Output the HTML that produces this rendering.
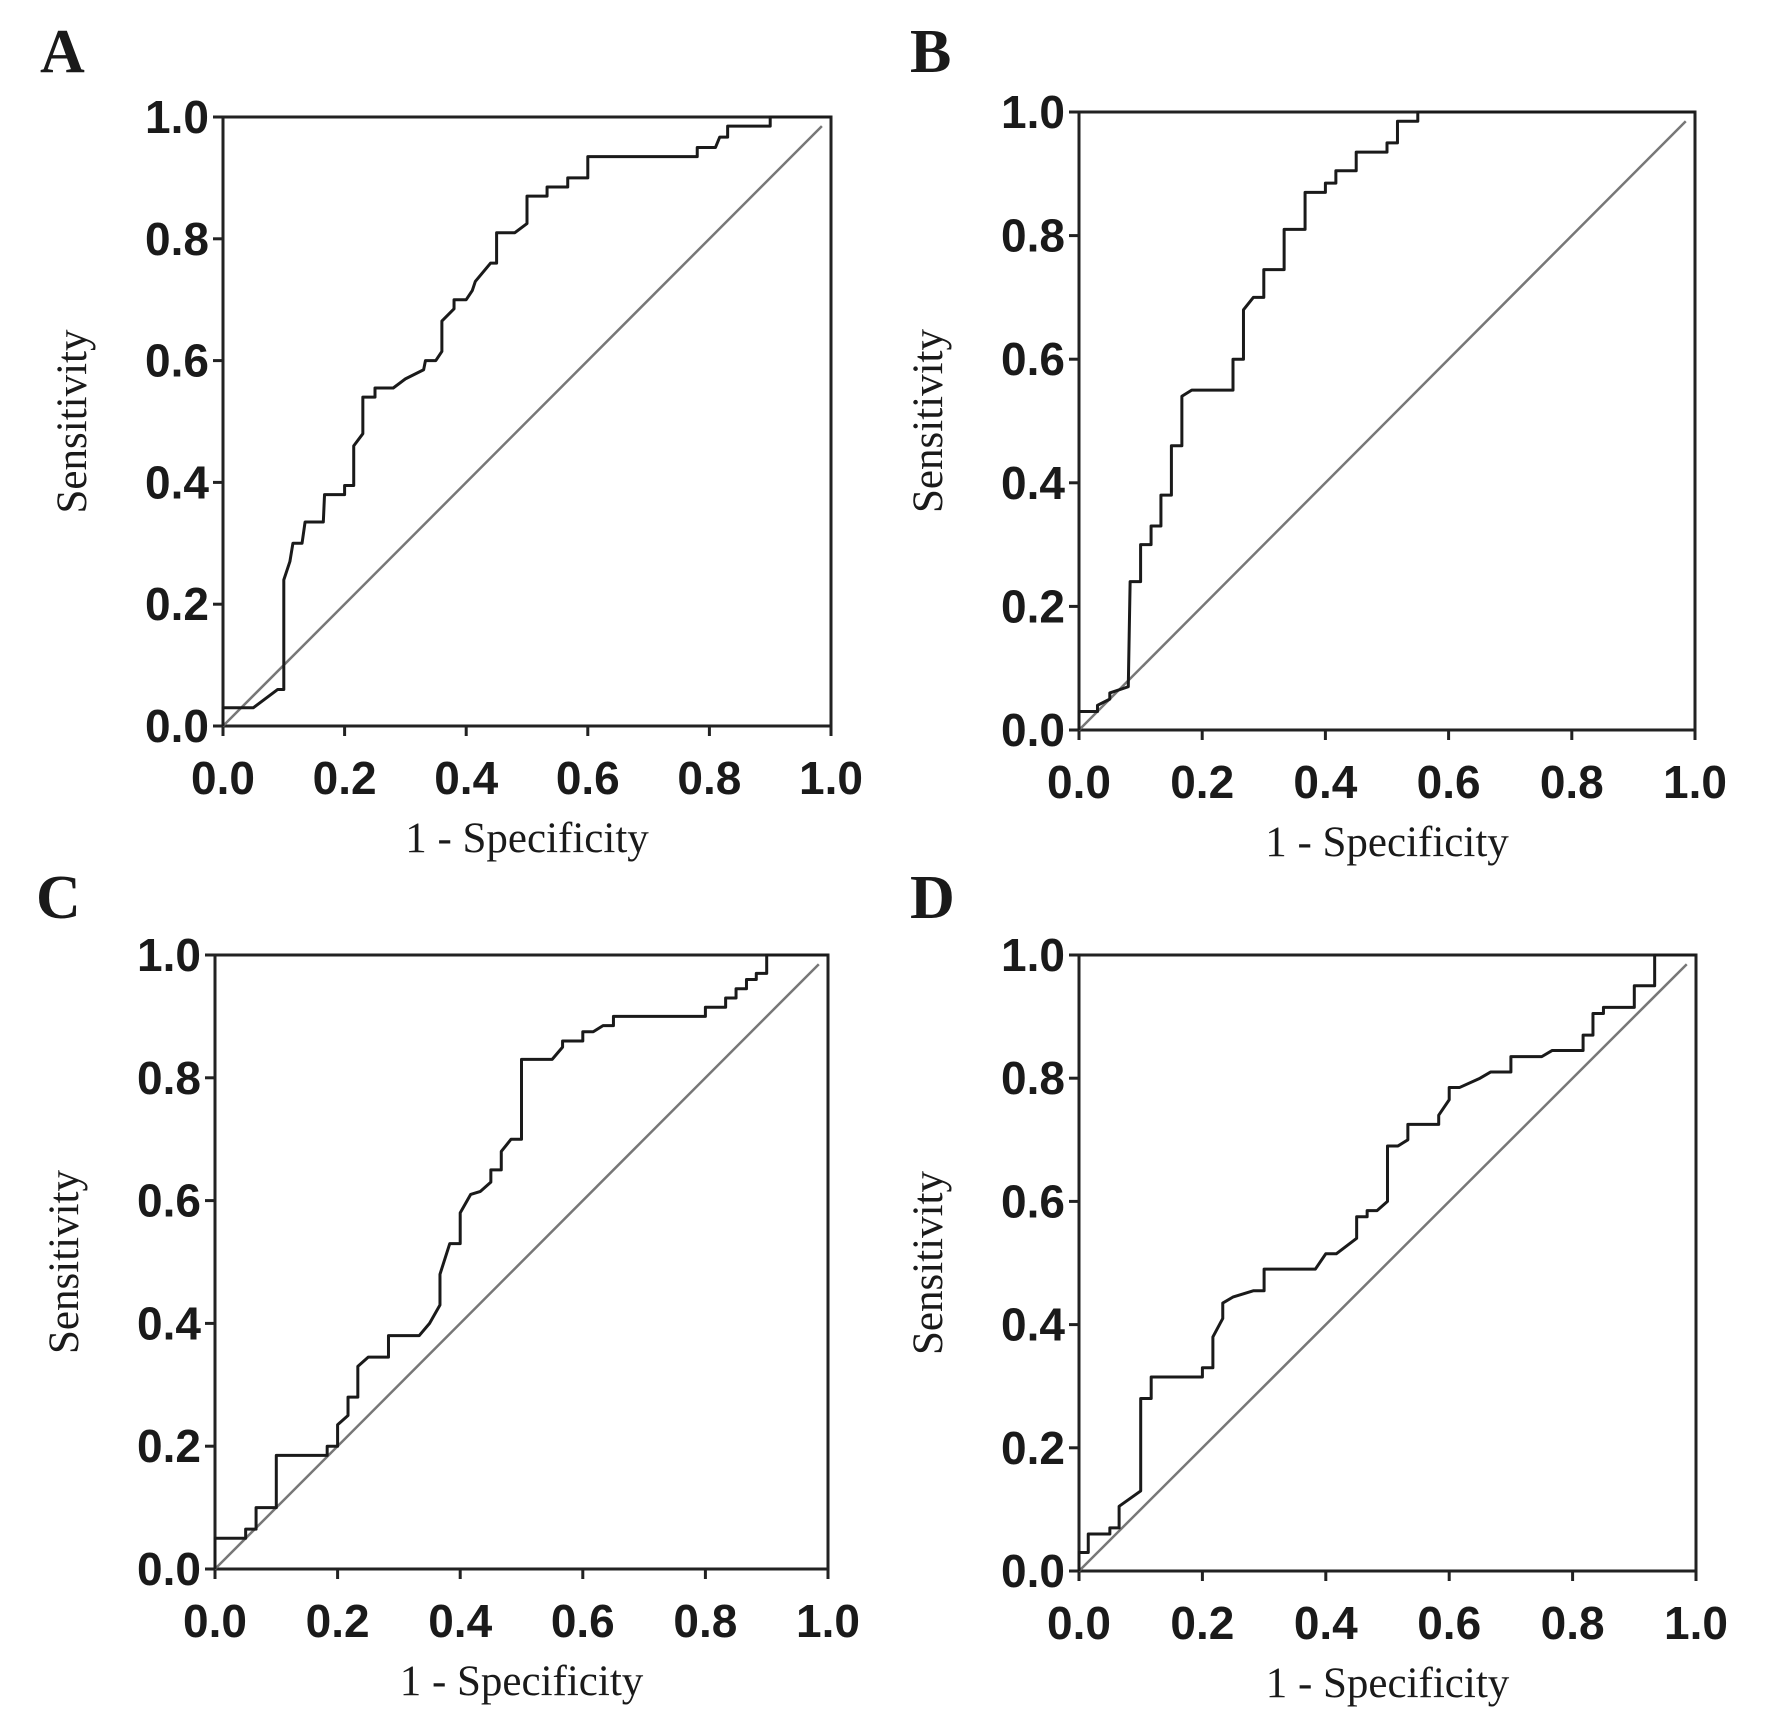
<!DOCTYPE html>
<html><head><meta charset="utf-8"><style>
html,body{margin:0;padding:0;background:#fff;}
svg{display:block;}
.tick{font-family:"Liberation Sans",Arial,sans-serif;font-weight:bold;font-size:46px;fill:#1a1a1a;}
.title{font-family:"Liberation Serif",serif;font-size:43px;fill:#1a1a1a;}
.letter{font-family:"Liberation Serif",serif;font-weight:bold;font-size:62px;fill:#1a1a1a;}
</style></head><body>
<svg id="fig" width="1772" height="1728" viewBox="0 0 1772 1728" xmlns="http://www.w3.org/2000/svg"></svg>
<script>
const tickValues = [0.0, 0.2, 0.4, 0.6, 0.8, 1.0];
const tickLabels = ["0.0", "0.2", "0.4", "0.6", "0.8", "1.0"];
const panelLetters = ["A", "B", "C", "D"];
const fprA = [0,0.05,0.09,0.1,0.1,0.11,0.115,0.13,0.135,0.165,0.167,0.2,0.2,0.215,0.215,0.23,0.23,0.25,0.25,0.28,0.3,0.33,0.333,0.35,0.36,0.36,0.38,0.38,0.4,0.41,0.415,0.44,0.45,0.45,0.48,0.5,0.5,0.533,0.533,0.567,0.567,0.6,0.6,0.78,0.78,0.81,0.817,0.83,0.83,0.9,0.9,1.0];
const tprA = [0.03,0.03,0.06,0.06,0.24,0.27,0.30,0.30,0.335,0.335,0.38,0.38,0.395,0.395,0.46,0.48,0.54,0.54,0.555,0.555,0.57,0.585,0.6,0.6,0.615,0.665,0.685,0.70,0.70,0.715,0.73,0.76,0.76,0.81,0.81,0.825,0.87,0.87,0.885,0.885,0.90,0.90,0.935,0.935,0.95,0.95,0.967,0.967,0.985,0.985,1.0,1.0];
const fprB = [0,0.03,0.03,0.05,0.05,0.08,0.083,0.1,0.1,0.117,0.117,0.133,0.133,0.15,0.15,0.167,0.167,0.183,0.25,0.25,0.267,0.267,0.283,0.3,0.3,0.333,0.333,0.367,0.367,0.4,0.4,0.417,0.417,0.45,0.45,0.5,0.5,0.517,0.517,0.55,0.55,1.0];
const tprB = [0.03,0.03,0.04,0.05,0.06,0.07,0.24,0.24,0.30,0.30,0.33,0.33,0.38,0.38,0.46,0.46,0.54,0.55,0.55,0.6,0.6,0.68,0.70,0.70,0.745,0.745,0.81,0.81,0.87,0.87,0.885,0.885,0.905,0.905,0.935,0.935,0.95,0.95,0.985,0.985,1.0,1.0];
const fprC = [0,0.05,0.05,0.067,0.067,0.1,0.1,0.183,0.183,0.2,0.2,0.217,0.217,0.233,0.233,0.25,0.283,0.283,0.333,0.35,0.367,0.367,0.383,0.4,0.4,0.417,0.433,0.45,0.45,0.467,0.467,0.483,0.5,0.5,0.55,0.567,0.567,0.6,0.6,0.617,0.633,0.65,0.65,0.8,0.8,0.833,0.833,0.85,0.85,0.867,0.867,0.883,0.883,0.9,0.9,1.0];
const tprC = [0.05,0.05,0.065,0.065,0.10,0.10,0.185,0.185,0.20,0.20,0.235,0.25,0.28,0.28,0.33,0.345,0.345,0.38,0.38,0.40,0.43,0.48,0.53,0.53,0.58,0.61,0.615,0.63,0.65,0.65,0.68,0.70,0.70,0.83,0.83,0.85,0.86,0.86,0.875,0.875,0.885,0.885,0.90,0.90,0.915,0.915,0.93,0.93,0.945,0.945,0.96,0.96,0.97,0.97,1.0,1.0];
const fprD = [0,0.015,0.015,0.05,0.05,0.065,0.065,0.1,0.1,0.117,0.117,0.2,0.2,0.217,0.217,0.233,0.233,0.25,0.283,0.3,0.3,0.383,0.4,0.417,0.45,0.45,0.467,0.467,0.483,0.5,0.5,0.517,0.533,0.533,0.583,0.583,0.6,0.6,0.617,0.65,0.667,0.7,0.7,0.75,0.767,0.817,0.817,0.833,0.833,0.85,0.85,0.9,0.9,0.933,0.933,1.0];
const tprD = [0.03,0.03,0.06,0.06,0.07,0.07,0.105,0.13,0.28,0.28,0.315,0.315,0.33,0.33,0.38,0.41,0.435,0.445,0.455,0.455,0.49,0.49,0.515,0.515,0.54,0.575,0.575,0.585,0.585,0.6,0.69,0.69,0.70,0.725,0.725,0.74,0.765,0.785,0.785,0.80,0.81,0.81,0.835,0.835,0.845,0.845,0.87,0.87,0.905,0.905,0.915,0.915,0.95,0.95,1.0,1.0];

const NS = "http://www.w3.org/2000/svg";
const svg = document.getElementById('fig');
function mk(tag, attrs, parent) {
  const e = document.createElementNS(NS, tag);
  for (const k in attrs) e.setAttribute(k, attrs[k]);
  (parent || svg).appendChild(e);
  return e;
}
const panels = [
  {x0:223, x1:831, y0:726, y1:117, lx:40, ly:72, fpr:fprA, tpr:tprA},
  {x0:1079, x1:1695, y0:730, y1:112, lx:910, ly:72, fpr:fprB, tpr:tprB},
  {x0:215, x1:828, y0:1569, y1:955, lx:36, ly:918, fpr:fprC, tpr:tprC},
  {x0:1079, x1:1696, y0:1571, y1:955, lx:910, ly:918, fpr:fprD, tpr:tprD}
];
panels.forEach((p, i) => {
  const L = panelLetters[i].toLowerCase();
  const g = mk('g', {});
  
  
  const sx = v => p.x0 + v * (p.x1 - p.x0);
  const sy = v => p.y0 - v * (p.y0 - p.y1);
  const letter = mk('text', {x:p.lx, y:p.ly, class:'letter'}, g);
  letter.textContent = panelLetters[i];
  
  
  const frame = mk('rect', {x:p.x0, y:p.y1, width:p.x1-p.x0, height:p.y0-p.y1, fill:'none', stroke:'#222', 'stroke-width':3}, g);
  
  
  tickValues.forEach((t, k) => {
    const xt = mk('line', {x1:sx(t), x2:sx(t), y1:p.y0, y2:p.y0+10, stroke:'#222', 'stroke-width':3}, g);
    
    
    const yt = mk('line', {x1:p.x0-10, x2:p.x0, y1:sy(t), y2:sy(t), stroke:'#222', 'stroke-width':3}, g);
    
    
    const xl = mk('text', {x:sx(t), y:p.y0+68, class:'tick', 'text-anchor':'middle'}, g);
    xl.textContent = tickLabels[k];
    
    
    const yl = mk('text', {x:p.x0-14, y:sy(t)+16, class:'tick', 'text-anchor':'end'}, g);
    yl.textContent = tickLabels[k];
    
    
  });
  const xtitle = mk('text', {x:(p.x0+p.x1)/2, y:p.y0+126, class:'title', 'text-anchor':'middle'}, g);
  xtitle.textContent = '1 - Specificity';
  
  
  const cy = (p.y0+p.y1)/2, cx = p.x0-137;
  const ytitle = mk('text', {x:cx, y:cy, class:'title', 'text-anchor':'middle', transform:'rotate(-90 '+cx+' '+cy+')'}, g);
  ytitle.textContent = 'Sensitivity';
  
  
  const diag = mk('line', {x1:sx(0), y1:sy(0), x2:sx(0.985), y2:sy(0.985), stroke:'#777', 'stroke-width':2.5}, g);
  
  
  let pts = sx(0)+','+sy(0)+' ';
  pts += p.fpr.map((f, j) => sx(f)+','+sy(p.tpr[j])).join(' ');
  const curve = mk('polyline', {points:pts, fill:'none', stroke:'#1a1a1a', 'stroke-width':3, 'stroke-linejoin':'round'}, g);
  
  
});
</script>
</body></html>
